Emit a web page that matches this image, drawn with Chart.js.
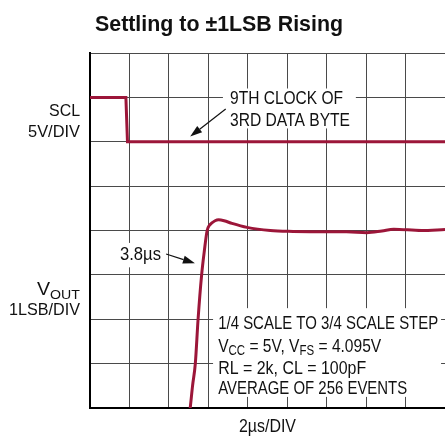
<!DOCTYPE html>
<html>
<head>
<meta charset="utf-8">
<script src="https://cdn.jsdelivr.net/npm/chart.js@4.4.1/dist/chart.umd.min.js"></script>
<style>
  html, body { margin: 0; padding: 0; background: #fff; }
</style>
</head>
<body>
<canvas id="scope" width="445" height="436"></canvas>
<script>
// Settling to ±1LSB rising — scope capture, 2µs/div, 9 x 8 divisions.
const TITLE = "Settling to \u00b11LSB Rising";
const X_LABEL = "2\u00b5s/DIV";

// SCL trace (divisions)
const sclTime = [0, 0.91, 0.95, 9];
const sclLevel = [7, 7, 6, 6];

// VOUT trace (divisions)
const voutTime = [2.45, 2.54, 2.6, 2.67, 2.74, 2.83, 2.9, 2.97, 3.03, 3.09, 3.17, 3.26, 3.4, 3.6, 3.98, 4.57, 5.15, 6.0, 6.5, 7.02, 7.4, 7.7, 8.4, 9];
const voutLevel = [-0.6, 0, 0.5, 1.0, 2.0, 3.0, 3.55, 4.0, 4.12, 4.17, 4.22, 4.24, 4.22, 4.16, 4.07, 4.0, 3.98, 3.97, 3.97, 3.95, 3.99, 4.03, 4.0, 4.02];

const clockNote = ["9TH CLOCK OF", "3RD DATA BYTE"];
const timeNote = "3.8\u00b5s";
const stepNote = [
  [["1/4 SCALE TO 3/4 SCALE STEP"]],
  [["V"], ["CC", 1], [" = 5V, V"], ["FS", 1], [" = 4.095V"]],
  [["RL = 2k, CL = 100pF"]],
  [["AVERAGE OF 256 EVENTS"]],
];

const FONT = '"Liberation Sans", Arial, sans-serif';
const TRACE = "#9c1639";

const pts = (xs, ys) => xs.map((x, i) => ({ x, y: ys[i] }));

// rich text squeezed to a given width; parts = [[text, isSub], ...]
function label(ctx, parts, x, y, size, width, align = "left", bold = false) {
  const f = (sub) => `${bold ? "bold " : ""}${sub ? Math.round(size * 0.72) : size}px ${FONT}`;
  let w = 0;
  parts.forEach(([t, sub]) => { ctx.font = f(sub); w += ctx.measureText(t).width; });
  const sx = width / w;
  const x0 = align === "right" ? x - width : align === "center" ? x - width / 2 : x;
  ctx.save();
  ctx.translate(x0, y);
  ctx.scale(sx, 1);
  ctx.textAlign = "left";
  ctx.textBaseline = "alphabetic";
  let cx = 0;
  parts.forEach(([t, sub]) => {
    ctx.font = f(sub);
    ctx.fillText(t, cx, sub ? size * 0.2 : 0);
    cx += ctx.measureText(t).width;
  });
  ctx.restore();
}
function arrow(ctx, x0, y0, x1, y1) {
  const a = Math.atan2(y1 - y0, x1 - x0), L = 12, W = 4;
  const bx = x1 - L * Math.cos(a), by = y1 - L * Math.sin(a);
  ctx.beginPath(); ctx.moveTo(x0, y0); ctx.lineTo(bx, by); ctx.stroke();
  ctx.beginPath();
  ctx.moveTo(x1, y1);
  ctx.lineTo(bx + W * Math.sin(a), by - W * Math.cos(a));
  ctx.lineTo(bx - W * Math.sin(a), by + W * Math.cos(a));
  ctx.closePath(); ctx.fill();
}

const notes = {
  id: "notes",
  beforeDatasetsDraw(chart) {
    const { ctx, scales: { x, y } } = chart;
    // white backing behind the annotations (hides grid)
    const boxes = [[3.37, 7.2, 6.74, 6.3], [0.68, 3.72, 1.85, 3.17], [3.12, 2.25, 8.9, 0.25]];
    ctx.save();
    ctx.fillStyle = "#fff";
    boxes.forEach(([a, b, c, d]) => {
      const l = x.getPixelForValue(a), t = y.getPixelForValue(b);
      ctx.fillRect(l, t, x.getPixelForValue(c) - l, y.getPixelForValue(d) - t);
    });
    ctx.restore();
  },
  afterDatasetsDraw(chart) {
    const { ctx, chartArea, scales: { x, y } } = chart;
    const px = (v) => x.getPixelForValue(v);
    ctx.save();
    ctx.fillStyle = "#111"; ctx.strokeStyle = "#111"; ctx.lineWidth = 1.2;

    // title and time base
    label(ctx, [[TITLE]], 219, 30.7, 22, 248, "center", true);
    label(ctx, [[X_LABEL]], (chartArea.left + chartArea.right) / 2, 432, 18, 57, "center");

    label(ctx, [[clockNote[0]]], px(3.55), 104.3, 19, 113);
    label(ctx, [[clockNote[1]]], px(3.55), 126, 19, 120);
    arrow(ctx, px(3.44), 109, px(2.54), 136.5);

    label(ctx, [[timeNote]], px(0.76), 260, 19, 41);
    arrow(ctx, px(1.93), 254, px(2.66), 263.3);

    const base = [329, 351.5, 374, 394], widths = [220, 163, 148, 189];
    stepNote.forEach((ln, i) => label(ctx, ln.map(([t, s]) => [t, !!s]), px(3.25), base[i], 19, widths[i]));

    // channel labels, right aligned left of the screen
    const rx = chartArea.left - 10;
    label(ctx, [["SCL"]], rx, 116, 17, 31, "right");
    label(ctx, [["5V/DIV"]], rx, 137.3, 17, 52, "right");
    label(ctx, [["V"], ["OUT", 1]], rx, 295, 18, 43, "right");
    label(ctx, [["1LSB/DIV"]], rx, 315, 17, 71, "right");
    ctx.restore();
  },
};

const grid = { color: "#4a4a4a", lineWidth: 1, drawTicks: false };
const border = { color: "#000", width: 2 };

new Chart(document.getElementById("scope"), {
  type: "scatter",
  data: {
    datasets: [
      { label: "SCL", data: pts(sclTime, sclLevel), showLine: true, borderColor: TRACE, borderWidth: 3, pointRadius: 0 },
      { label: "VOUT", data: pts(voutTime, voutLevel), showLine: true, borderColor: TRACE, borderWidth: 3, pointRadius: 0, cubicInterpolationMode: "monotone" },
    ],
  },
  options: {
    responsive: false, animation: false, devicePixelRatio: 1,
    layout: { padding: { top: 53, right: 0, bottom: 0, left: 0 } },
    plugins: { legend: { display: false }, tooltip: { enabled: false }, title: { display: false } },
    scales: {
      x: {
        type: "linear", min: 0, max: 9, grid, border,
        ticks: { stepSize: 1, display: false },
        afterFit: (s) => { s.height = 28; },
      },
      y: {
        min: 0, max: 8, grid, border,
        ticks: { stepSize: 1, display: false },
        afterFit: (s) => { s.width = 90; },
      },
    },
  },
  plugins: [notes],
});
</script>
</body>
</html>
